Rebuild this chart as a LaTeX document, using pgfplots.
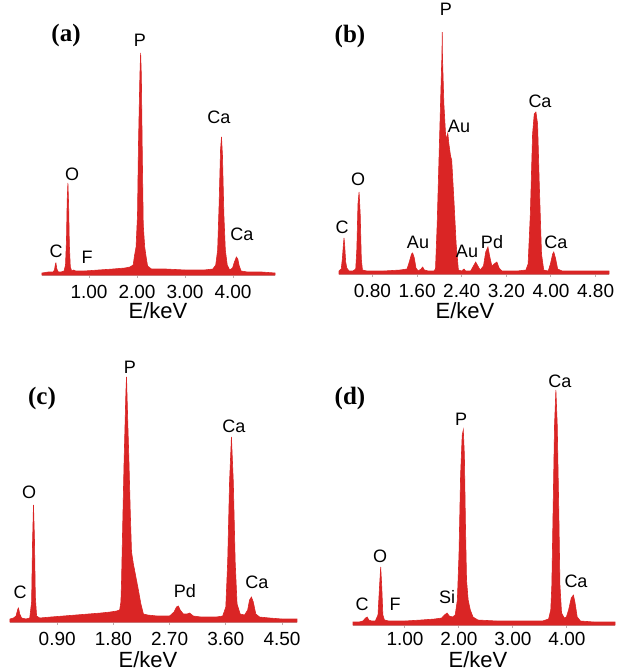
\documentclass[border=0pt]{standalone}
\usepackage{pgfplots}
\pgfplotsset{compat=1.18}
\usepackage{fontspec}
\setmainfont{Liberation Sans}
\newfontfamily\serifb{Liberation Serif}

\definecolor{specred}{RGB}{218,37,37}
\definecolor{axisgray}{RGB}{190,172,172}

\newcommand{\tickfont}{\fontsize{9.5}{10}\selectfont}
\newcommand{\peakfont}{\fontsize{9}{10}\selectfont}
\newcommand{\panelfont}{\serifb\bfseries\fontsize{12.5}{13}\selectfont}
\newcommand{\xlabfont}{\fontsize{11}{12}\selectfont}

\pgfplotsset{
  eds/.style={
    scale only axis, height=130pt,
    ymin=0, ymax=260,
    axis x line*=bottom, hide y axis, clip=false,
    axis line style={draw=axisgray, line width=0.8pt},
    tick align=outside, major tick length=1.5pt,
    xtick style={draw=axisgray, line width=0.5pt},
    xticklabel style={font=\tickfont, text=black},
  },
  spec/.style={fill=specred, draw=specred, line width=0.3pt},
}

\begin{document}
\begin{tikzpicture}

% (a)
\begin{axis}[eds, at={(21pt,-137.5pt)}, anchor=south west, width=116.5pt,
  xmin=0.02, xmax=4.875, xtick={1,2,3,4}, xticklabels={1.00,2.00,3.00,4.00}]
\addplot[spec] coordinates {
(0.02,2)(0.15,3)(0.25,3)(0.28,5)(0.30,11)(0.31,12)(0.33,6)(0.36,3)(0.42,3)
(0.48,4)(0.51,10)(0.53,35)(0.545,75)(0.56,92)(0.575,70)(0.59,30)(0.61,8)
(0.64,4)(0.68,5)(0.72,4)(0.90,4)(1.20,5)(1.50,6)(1.75,7)(1.85,8)(1.92,10)
(1.95,20)(1.98,28)(2.01,60)(2.03,130)(2.06,200)(2.075,222)(2.09,200)(2.11,120)
(2.13,50)(2.16,28)(2.19,18)(2.22,9)(2.30,6)(2.60,6)(3.00,5)(3.40,5)(3.58,6)
(3.64,10)(3.68,25)(3.71,70)(3.74,125)(3.76,138)(3.78,120)(3.81,60)(3.84,25)
(3.88,10)(3.93,5)(3.99,7)(4.03,13)(4.07,18)(4.10,16)(4.13,9)(4.17,4)(4.30,3)
(4.60,3)(4.875,2)
} \closedcycle;
\end{axis}

% (b)
\begin{axis}[eds, at={(169.5pt,-137pt)}, anchor=south west, width=135pt,
  xmin=0.20, xmax=5.04, xtick={0.8,1.6,2.4,3.2,4.0,4.8},
  xticklabels={0.80,1.60,2.40,3.20,4.00,4.80}]
\addplot[spec] coordinates {
(0.20,3)(0.24,5)(0.26,15)(0.28,30)(0.29,36)(0.30,30)(0.32,12)(0.34,6)(0.38,3)
(0.45,3)(0.50,5)(0.52,25)(0.54,70)(0.56,82)(0.58,60)(0.60,15)(0.62,4)(0.70,3)
(1.00,3)(1.30,4)(1.42,5)(1.46,12)(1.50,20)(1.52,21)(1.55,16)(1.58,6)(1.62,3)
(1.67,5)(1.70,7)(1.73,4)(1.80,3)(1.90,3)(1.93,5)(1.96,50)(1.99,110)(2.02,170)
(2.04,210)(2.045,217)(2.05,242)(2.055,217)(2.08,170)(2.11,140)(2.13,135)
(2.15,141)(2.17,130)(2.20,118)(2.22,114)(2.26,74)(2.30,30)(2.34,4)(2.40,3)
(2.44,5)(2.47,3)(2.56,3)(2.61,8)(2.65,12)(2.69,8)(2.73,4)(2.79,8)(2.83,22)
(2.87,27)(2.90,18)(2.94,8)(2.98,10)(3.03,12)(3.07,6)(3.12,3)(3.40,3)(3.55,4)
(3.59,10)(3.63,60)(3.67,140)(3.70,160)(3.73,162)(3.76,150)(3.79,90)(3.83,20)
(3.87,4)(3.95,3)(3.99,10)(4.03,20)(4.05,22)(4.08,16)(4.12,5)(4.20,3)(4.60,3)
(5.04,3)
} \closedcycle;
\end{axis}

% (c)
\begin{axis}[eds, at={(5pt,-311pt)}, anchor=south west, width=143.5pt,
  xmin=0.144, xmax=4.74, xtick={0.9,1.8,2.7,3.6,4.5},
  xticklabels={0.90,1.80,2.70,3.60,4.50}]
\addplot[spec] coordinates {
(0.144,3)(0.20,4)(0.24,6)(0.27,13)(0.28,14)(0.30,8)(0.33,4)(0.40,3)(0.46,4)
(0.49,20)(0.505,80)(0.52,117)(0.535,85)(0.55,25)(0.57,6)(0.62,4)(0.80,5)
(1.00,6)(1.20,7)(1.40,8)(1.60,9)(1.75,10)(1.85,11)(1.90,12)(1.92,20)(1.93,40)
(1.95,100)(1.97,158)(2.00,230)(2.01,245)(2.03,200)(2.05,158)(2.07,110)
(2.09,70)(2.12,58)(2.16,45)(2.20,32)(2.24,18)(2.28,8)(2.35,7)(2.50,6)(2.70,6)
(2.77,10)(2.81,15)(2.84,16)(2.87,12)(2.92,8)(2.98,8)(3.02,9)(3.08,6)(3.20,5)
(3.45,5)(3.55,6)(3.60,15)(3.63,60)(3.66,140)(3.69,185)(3.72,140)(3.75,60)
(3.78,18)(3.83,8)(3.90,7)(3.95,12)(3.98,22)(4.01,25)(4.04,20)(4.08,8)(4.14,5)
(4.30,4)(4.50,3)(4.74,3)
} \closedcycle;
\end{axis}

% (d)
\begin{axis}[eds, at={(176.5pt,-312.5pt)}, anchor=south west, width=131pt,
  xmin=0.037, xmax=4.89, xtick={1,2,3,4}, xticklabels={1.00,2.00,3.00,4.00},
  xticklabel style={yshift=1.5pt}]
\addplot[spec] coordinates {
(0.037,3)(0.15,3)(0.22,4)(0.27,7)(0.30,8)(0.33,5)(0.38,4)(0.45,4)(0.50,10)
(0.53,40)(0.55,58)(0.57,38)(0.59,10)(0.62,5)(0.70,4)(1.00,4)(1.30,5)(1.55,6)
(1.68,7)(1.73,10)(1.78,12)(1.82,9)(1.88,8)(1.93,10)(1.97,25)(2.00,70)
(2.03,150)(2.06,190)(2.08,195)(2.10,170)(2.12,100)(2.14,45)(2.17,25)(2.21,15)
(2.26,8)(2.35,5)(2.70,4)(3.20,4)(3.55,4)(3.66,6)(3.70,15)(3.72,40)(3.745,120)
(3.77,200)(3.795,235)(3.82,200)(3.85,110)(3.87,40)(3.90,12)(3.95,7)(3.99,8)
(4.03,15)(4.08,27)(4.12,30)(4.15,22)(4.19,8)(4.25,4)(4.50,3)(4.89,3)
} \closedcycle;
\end{axis}

\begin{scope}[x=0.5pt, y=-0.5pt, every node/.style={inner sep=0pt}]
% panel letters
\node[font=\panelfont] at (66,35) {(a)};
\node[font=\panelfont] at (350,36) {(b)};
\node[font=\panelfont] at (42,398) {(c)};
\node[font=\panelfont] at (350,398) {(d)};
% axis titles
\node[anchor=base, font=\xlabfont] at (158,318) {E/keV};
\node[anchor=base, font=\xlabfont] at (465,318) {E/keV};
\node[anchor=base, font=\xlabfont] at (148,667) {E/keV};
\node[anchor=base, font=\xlabfont] at (478,667) {E/keV};
% peak labels (a)
\node[anchor=base, font=\peakfont] at (140,46) {P};
\node[anchor=base, font=\peakfont] at (219,123) {Ca};
\node[anchor=base, font=\peakfont] at (72,180) {O};
\node[anchor=base, font=\peakfont] at (56,257) {C};
\node[anchor=base, font=\peakfont] at (87,263) {F};
\node[anchor=base, font=\peakfont] at (242,240) {Ca};
% peak labels (b)
\node[anchor=base, font=\peakfont] at (446,15) {P};
\node[anchor=base, font=\peakfont] at (459,132) {Au};
\node[anchor=base, font=\peakfont] at (358,185) {O};
\node[anchor=base, font=\peakfont] at (342,233) {C};
\node[anchor=base, font=\peakfont] at (418,248) {Au};
\node[anchor=base, font=\peakfont] at (467,257) {Au};
\node[anchor=base, font=\peakfont] at (492,248) {Pd};
\node[anchor=base, font=\peakfont] at (540,107) {Ca};
\node[anchor=base, font=\peakfont] at (556,248) {Ca};
% peak labels (c)
\node[anchor=base, font=\peakfont] at (130,373) {P};
\node[anchor=base, font=\peakfont] at (234,432) {Ca};
\node[anchor=base, font=\peakfont] at (29,498) {O};
\node[anchor=base, font=\peakfont] at (20,598) {C};
\node[anchor=base, font=\peakfont] at (185,597) {Pd};
\node[anchor=base, font=\peakfont] at (257,588) {Ca};
% peak labels (d)
\node[anchor=base, font=\peakfont] at (560,387) {Ca};
\node[anchor=base, font=\peakfont] at (461,425) {P};
\node[anchor=base, font=\peakfont] at (380,562) {O};
\node[anchor=base, font=\peakfont] at (362,610) {C};
\node[anchor=base, font=\peakfont] at (395,610) {F};
\node[anchor=base, font=\peakfont] at (447,603) {Si};
\node[anchor=base, font=\peakfont] at (576,587) {Ca};
\pgfresetboundingbox
\path[use as bounding box] (0,0) rectangle (617,670);
\end{scope}
\end{tikzpicture}
\end{document}
